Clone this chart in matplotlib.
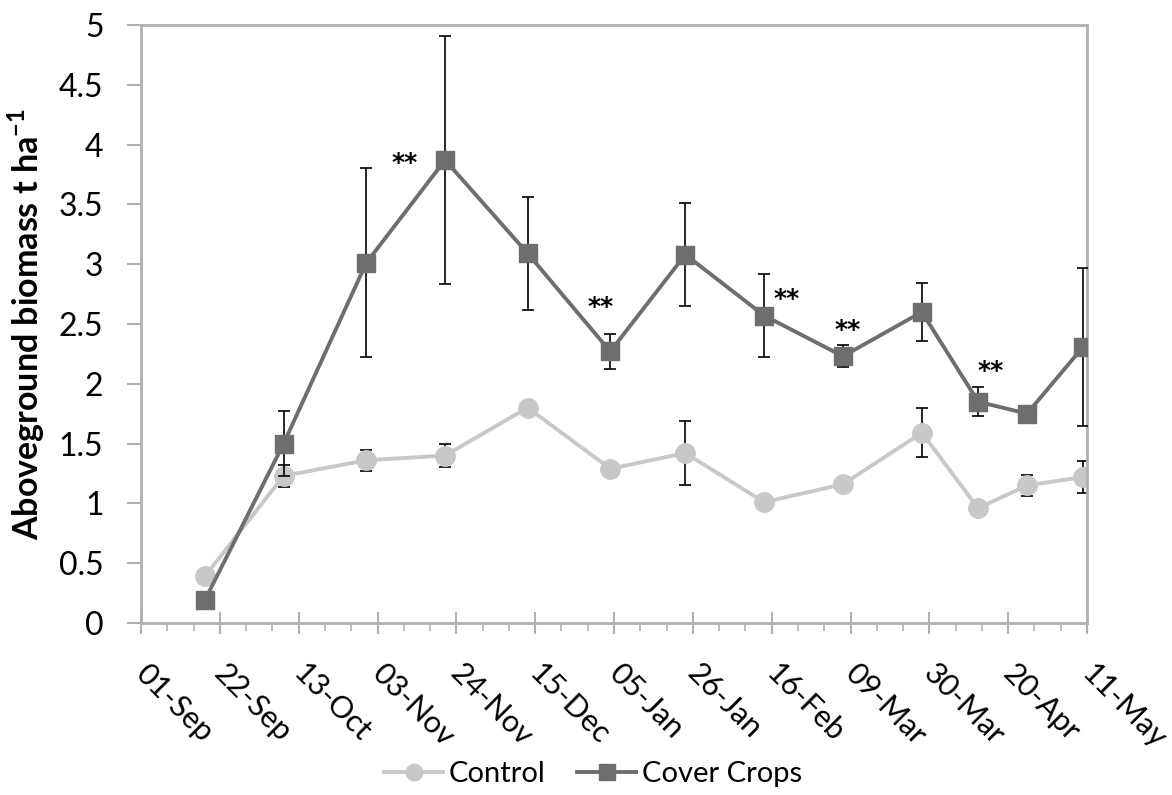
import numpy as np
import matplotlib
matplotlib.use("Agg")
import matplotlib.pyplot as plt
import matplotlib.dates as mdates
from matplotlib.transforms import ScaledTranslation

plt.rcParams['font.family'] = ['Lato', 'DejaVu Sans']

# sampling dates (2018/19 season)
dates = np.array(['2018-09-18', '2018-10-09', '2018-10-31', '2018-11-21',
                  '2018-12-13', '2019-01-04', '2019-01-24', '2019-02-14',
                  '2019-03-07', '2019-03-28', '2019-04-12', '2019-04-25',
                  '2019-05-10'], dtype='datetime64[D]')

control = [0.39, 1.23, 1.36, 1.40, 1.80, 1.29, 1.42, 1.01, 1.16, 1.59, 0.96, 1.15, 1.22]
control_err = [0, 0.09, 0.09, 0.095, 0, 0, 0.27, 0, 0, 0.205, 0, 0.085, 0.135]

cover = [0.19, 1.50, 3.01, 3.87, 3.09, 2.27, 3.08, 2.57, 2.23, 2.60, 1.85, 1.75, 2.31]
cover_err = [0, 0.27, 0.79, 1.04, 0.47, 0.15, 0.43, 0.35, 0.09, 0.24, 0.12, 0, 0.66]

# points flagged as significant, with label offsets in points
sig_idx = [3, 5, 7, 8, 10]
sig_off = [(-29, -2), (-7, 32), (16, 12), (3, 19), (9, 22)]

tick_start = np.datetime64('2018-09-01')
tick_end = np.datetime64('2019-05-11')

fig = plt.figure(figsize=(11.72, 7.95), dpi=100)
ax = fig.add_axes([0.1203, 0.2164, 0.8072, 0.7522])

ax.errorbar(dates, control, yerr=control_err, color='#c8c8c8', lw=2.8,
            marker='o', ms=14, ecolor='black', elinewidth=1.2, capsize=4,
            capthick=1.2, label='Control', zorder=2)
ax.errorbar(dates, cover, yerr=cover_err, color='#6e6e6e', lw=2.8,
            marker='s', ms=13, ecolor='black', elinewidth=1.2, capsize=4,
            capthick=1.2, label='Cover Crops', zorder=3)

for i, off in zip(sig_idx, sig_off):
    ax.annotate('**', (dates[i], cover[i]), xytext=off, textcoords='offset points',
                ha='center', va='center', fontsize=18, fontweight='bold',
                family='DejaVu Sans')

ax.set_ylim(0, 5)
ax.set_yticks(np.arange(0, 5.01, 0.5))
ax.set_yticklabels(['0', '0.5', '1', '1.5', '2', '2.5', '3', '3.5', '4', '4.5', '5'])
ax.set_xlim(tick_start, tick_end)
ax.set_xticks(np.arange(tick_start, tick_end + 1, 21))
ax.set_xticks(np.arange(tick_start, tick_end + 1, 7), minor=True)
ax.xaxis.set_major_formatter(mdates.DateFormatter('%d-%b'))

for s in ax.spines.values():
    s.set_color('#b0b0b0')
    s.set_linewidth(2)

ax.tick_params(axis='y', which='major', direction='out', length=10, width=1.5,
               color='#b0b0b0', labelsize=23, pad=17)
ax.tick_params(axis='x', which='major', direction='inout', length=16, width=1.5,
               color='#b0b0b0', labelsize=22, pad=18)
ax.tick_params(axis='x', which='minor', direction='out', length=6, width=1.2,
               color='#b0b0b0')
shift = ScaledTranslation(0.09, 0, fig.dpi_scale_trans)
for lab in ax.get_xticklabels():
    lab.set_rotation(-45)
    lab.set_ha('left')
    lab.set_va('top')
    lab.set_rotation_mode('anchor')
    lab.set_transform(lab.get_transform() + shift)

ax.set_ylabel('Aboveground biomass t ha$^{\\mathregular{-1}}$', fontsize=24.5,
              fontweight='bold')
ax.yaxis.set_label_coords(-0.099, 0.5)

handles, labels = ax.get_legend_handles_labels()
handles = [h[0] for h in handles]
fig.legend(handles, labels, loc='center', bbox_to_anchor=(0.506, 0.026), ncol=2,
           frameon=False, fontsize=21, handlelength=2.0, handletextpad=0.2,
           columnspacing=1.1, markerscale=0.85)

fig.savefig('out.png', dpi=100)
